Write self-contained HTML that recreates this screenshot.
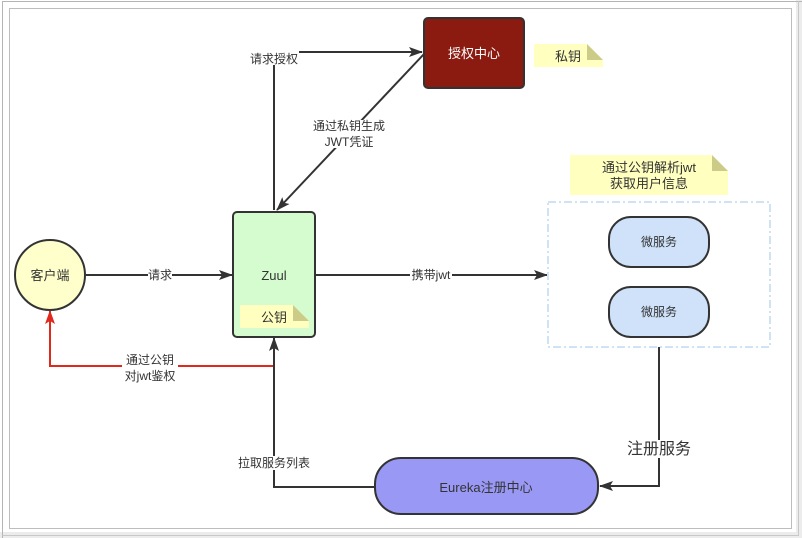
<!DOCTYPE html>
<html><head><meta charset="utf-8"><style>
html,body{margin:0;padding:0;background:#fff;}
svg{display:block;font-family:"Liberation Sans","Noto Sans CJK SC",sans-serif;}
</style></head><body>
<svg width="802" height="538" viewBox="0 0 802 538" xmlns="http://www.w3.org/2000/svg">
<defs>
<marker id="a" markerWidth="14" markerHeight="10" refX="13" refY="5" orient="auto" markerUnits="userSpaceOnUse"><path d="M0,0 L14,5 L0,10 L3,5 Z" fill="#333"/></marker>
<marker id="r" markerWidth="14" markerHeight="10" refX="13" refY="5" orient="auto" markerUnits="userSpaceOnUse"><path d="M0,0 L14,5 L0,10 L3,5 Z" fill="#e0291d"/></marker>
</defs>
<rect x="0" y="532" width="802" height="6" fill="#ececec"/>
<rect x="796" y="0" width="6" height="538" fill="#ececec"/>
<path d="M2.5,538 V1.5 H802" fill="none" stroke="#b5b5b5" stroke-width="1"/>
<rect x="9.5" y="8.5" width="782" height="520" fill="#fff" stroke="#bdbdbd" stroke-width="1"/>
<path d="M2.5,535.5 H798.5 V1" fill="none" stroke="#c8c8c8"/>

<rect x="424" y="18" width="100" height="70" rx="4" fill="#8b1a10" stroke="#333" stroke-width="2"/>
<text x="474" y="58" font-size="13" fill="#fff" text-anchor="middle">授权中心</text>
<path d="M534,44 H587 L603,60 V67 H534 Z" fill="#ffffc0"/>
<path d="M587,44 L603,60 H587 Z" fill="#cccc88"/>
<text x="568" y="61" font-size="13" fill="#333" text-anchor="middle">私钥</text>

<path d="M274,210 V52 H422" fill="none" stroke="#333" stroke-width="2" marker-end="url(#a)"/>
<rect x="249" y="51" width="50" height="14" fill="#fff"/>
<text x="274" y="63" font-size="12" fill="#333" text-anchor="middle">请求授权</text>
<line x1="424" y1="54" x2="277" y2="210" stroke="#333" stroke-width="2" marker-end="url(#a)"/>
<rect x="313" y="120" width="72" height="28" fill="#fff"/>
<text x="349" y="130" font-size="12" fill="#333" text-anchor="middle">通过私钥生成</text>
<text x="349" y="146" font-size="12" fill="#333" text-anchor="middle">JWT凭证</text>

<rect x="233" y="212" width="82" height="125" rx="4" fill="#d5fccf" stroke="#333" stroke-width="2"/>
<text x="274" y="280" font-size="13" fill="#333" text-anchor="middle">Zuul</text>
<path d="M240,305 H293 L309,321 V328 H240 Z" fill="#ffffc0"/>
<path d="M293,305 L309,321 H293 Z" fill="#cccc88"/>
<text x="274" y="322" font-size="13" fill="#333" text-anchor="middle">公钥</text>

<circle cx="50" cy="275" r="35" fill="#ffffcc" stroke="#333" stroke-width="2"/>
<text x="50" y="280" font-size="13" fill="#333" text-anchor="middle">客户端</text>
<line x1="86" y1="275" x2="232" y2="275" stroke="#333" stroke-width="2" marker-end="url(#a)"/>
<rect x="148" y="268" width="24" height="14" fill="#fff"/>
<text x="160" y="279" font-size="12" fill="#333" text-anchor="middle">请求</text>

<line x1="316" y1="275" x2="547" y2="275" stroke="#333" stroke-width="2" marker-end="url(#a)"/>
<rect x="410" y="268" width="42" height="14" fill="#fff"/>
<text x="431" y="279" font-size="12" fill="#333" text-anchor="middle">携带jwt</text>

<rect x="548" y="202" width="222" height="145" fill="none" stroke="#cfe2f6" stroke-width="2" stroke-dasharray="8,3,2,3"/>
<rect x="609" y="217" width="100" height="50" rx="22" fill="#cfe2fa" stroke="#333" stroke-width="2"/>
<text x="659" y="246" font-size="12" fill="#333" text-anchor="middle">微服务</text>
<rect x="609" y="287" width="100" height="50" rx="22" fill="#cfe2fa" stroke="#333" stroke-width="2"/>
<text x="659" y="316" font-size="12" fill="#333" text-anchor="middle">微服务</text>
<path d="M570,155 H712 L728,171 V195 H570 Z" fill="#ffffc0"/>
<path d="M712,155 L728,171 H712 Z" fill="#cccc88"/>
<text x="649" y="172" font-size="13" fill="#333" text-anchor="middle">通过公钥解析jwt</text>
<text x="649" y="188" font-size="13" fill="#333" text-anchor="middle">获取用户信息</text>

<path d="M659,347 V486 H600" fill="none" stroke="#333" stroke-width="2" marker-end="url(#a)"/>
<rect x="626" y="440" width="66" height="18" fill="#fff"/>
<text x="659" y="454" font-size="16" fill="#333" text-anchor="middle">注册服务</text>

<rect x="375" y="458" width="223" height="56" rx="26" fill="#9999f5" stroke="#333" stroke-width="2"/>
<text x="486" y="492" font-size="13" fill="#333" text-anchor="middle">Eureka注册中心</text>
<path d="M375,487 H274 V338" fill="none" stroke="#333" stroke-width="2" marker-end="url(#a)"/>
<rect x="238" y="456" width="72" height="14" fill="#fff"/>
<text x="274" y="467" font-size="12" fill="#333" text-anchor="middle">拉取服务列表</text>

<path d="M273,366 H50 V311" fill="none" stroke="#e0291d" stroke-width="2" marker-end="url(#r)"/>
<rect x="122" y="354" width="56" height="28" fill="#fff"/>
<text x="150" y="364" font-size="12" fill="#333" text-anchor="middle">通过公钥</text>
<text x="150" y="380" font-size="12" fill="#333" text-anchor="middle">对jwt鉴权</text>
</svg>
</body></html>
